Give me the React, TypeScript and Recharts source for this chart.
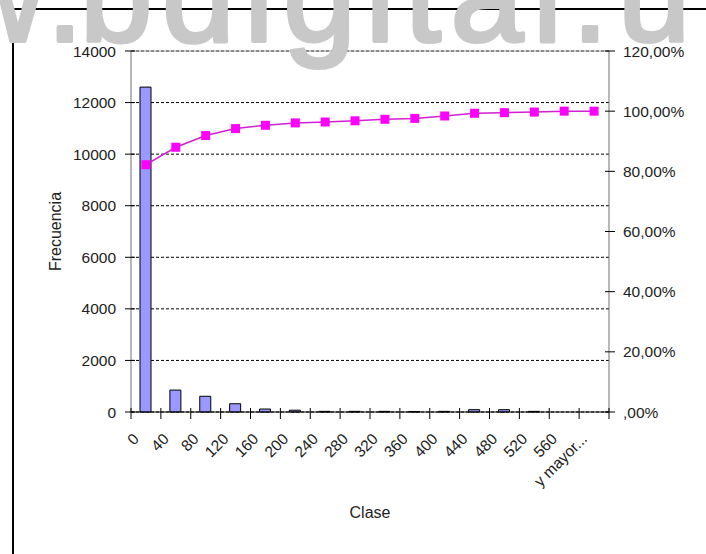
import React from 'react';
import {
  ComposedChart,
  Bar,
  Line,
  XAxis,
  YAxis,
  CartesianGrid,
  ReferenceLine,
} from 'recharts';

const clases = ['0', '40', '80', '120', '160', '200', '240', '280', '320', '360', '400', '440', '480', '520', '560', 'y mayor...'];
const frecuencia = [12600, 850, 610, 320, 115, 70, 25, 25, 25, 20, 25, 90, 90, 25, 0, 0];
const acumulado = [82.2, 88.0, 91.9, 94.2, 95.3, 96.1, 96.4, 96.8, 97.3, 97.6, 98.4, 99.3, 99.5, 99.7, 100, 100];
const frecuenciaTicks = [0, 2000, 4000, 6000, 8000, 10000, 12000, 14000];
const porcentajeTicks = [0, 20, 40, 60, 80, 100, 120];

const data = clases.map((clase, i) => ({
  clase,
  frecuencia: frecuencia[i],
  acumulado: acumulado[i],
}));

const FONT = '"Liberation Sans", Arial, sans-serif';

function formatPct(v: number) {
  return v === 0 ? ',00%' : `${v},00%`;
}

// etiquetas giradas, marcas entre categorias como en Excel
function ClaseTick(props: any) {
  const { x, y, payload } = props;
  const half = payload.offset ?? 0;
  const tx = x - 6;
  const ty = y + 28;
  const last = payload.value === clases[clases.length - 1];
  return (
    <g>
      <line x1={x - half} x2={x - half} y1={y - 4} y2={y + 7} stroke="#000" />
      {last && <line x1={x + half} x2={x + half} y1={y - 4} y2={y + 7} stroke="#000" />}
      <text
        x={tx}
        y={ty}
        transform={`rotate(-45, ${tx}, ${ty})`}
        textAnchor="end"
        fontSize={15.5}
        fontFamily={FONT}
        fill="#222"
      >
        {payload.value}
      </text>
    </g>
  );
}

function LeftTick(props: any) {
  const { x, y, payload } = props;
  return (
    <g>
      <line x1={x - 6} x2={x + 4} y1={y} y2={y} stroke="#000" />
      <text x={x - 15} y={y} dy="0.355em" textAnchor="end" fontSize={15.5} fontFamily={FONT} fill="#222">
        {payload.value}
      </text>
    </g>
  );
}

function RightTick(props: any) {
  const { x, y, payload } = props;
  return (
    <g>
      <line x1={x - 4} x2={x + 6} y1={y} y2={y} stroke="#000" />
      <text x={x + 14} y={y} dy="0.355em" textAnchor="start" fontSize={15.5} fontFamily={FONT} fill="#222">
        {formatPct(payload.value)}
      </text>
    </g>
  );
}

function SquareDot(props: any) {
  const { cx, cy } = props;
  if (cx == null || cy == null) return null;
  return <rect x={cx - 4.5} y={cy - 4.5} width={9} height={9} fill="#FF00FF" />;
}

const wmStyle = {
  fontSize: 130,
  fontFamily: FONT,
  letterSpacing: 10,
  fill: '#c8c8c8',
  stroke: '#c8c8c8',
  strokeWidth: 4,
  strokeLinejoin: 'round' as const,
};

export default function App() {
  return (
    <div style={{ position: 'absolute', left: 0, top: 0, width: 706, height: 554, background: '#fff', fontFamily: FONT, overflow: 'hidden' }}>
      <ComposedChart
        width={706}
        height={554}
        data={data}
        margin={{ top: 51, right: 0, bottom: 0, left: 0 }}
      >
        <CartesianGrid vertical={false} stroke="#000" strokeDasharray="3 2" />
        <ReferenceLine y={14000} stroke="#999" />
        <XAxis
          dataKey="clase"
          interval={0}
          height={142}
          tickSize={0}
          tickMargin={0}
          tickLine={false}
          axisLine={{ stroke: '#000' }}
          tick={<ClaseTick />}
          label={{ value: 'Clase', position: 'insideBottom', offset: 36, fontSize: 16, fill: '#222', fontFamily: FONT }}
        />
        <YAxis
          width={131}
          domain={[0, 14000]}
          ticks={frecuenciaTicks}
          interval={0}
          tickSize={0}
          tickMargin={0}
          tickLine={false}
          axisLine={{ stroke: '#707070' }}
          tick={<LeftTick />}
          label={{ value: 'Frecuencia', angle: -90, position: 'insideLeft', offset: 55, fontSize: 16, fill: '#222', fontFamily: FONT, style: { textAnchor: 'middle' } }}
        />
        <YAxis
          yAxisId="right"
          orientation="right"
          width={97}
          domain={[0, 120]}
          ticks={porcentajeTicks}
          interval={0}
          tickSize={0}
          tickMargin={0}
          tickLine={false}
          axisLine={{ stroke: '#707070' }}
          tick={<RightTick />}
        />
        <Bar
          dataKey="frecuencia"
          barSize={11}
          fill="#9999FF"
          stroke="#000"
          strokeWidth={1}
          isAnimationActive={false}
        />
        <Line
          yAxisId="right"
          type="linear"
          dataKey="acumulado"
          stroke="#D020D0"
          strokeWidth={1.5}
          dot={<SquareDot />}
          activeDot={false}
          isAnimationActive={false}
        />
      </ComposedChart>
      <div
        style={{
          position: 'absolute',
          left: 12,
          top: 8,
          width: 706,
          height: 560,
          borderTop: '2px solid #000',
          borderLeft: '2px solid #000',
          pointerEvents: 'none',
        }}
      />
      <svg width={706} height={554} style={{ position: 'absolute', left: 0, top: 0, pointerEvents: 'none' }}>
        <text x={-50} y={41} {...wmStyle}>w.</text>
        <text x={80} y={41} {...wmStyle}>bdigital.un</text>
      </svg>
    </div>
  );
}
